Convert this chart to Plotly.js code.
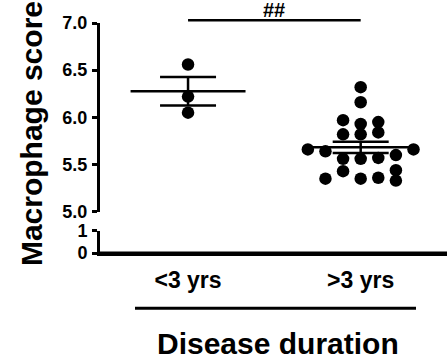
<!DOCTYPE html>
<html><head><meta charset="utf-8">
<script src="https://cdn.plot.ly/plotly-3.0.1.min.js"></script>
<style>html,body{margin:0;padding:0;background:#fff}#chart{width:447px;height:359px}</style>
</head><body><div id="chart"></div>
<script>
// ---- data ----
const categories = ['<3 yrs', '>3 yrs'];
const shortValues = [6.56, 6.22, 6.05];
const longValues = [6.32, 6.16, 5.97, 5.93, 5.95, 5.82, 5.82, 5.84, 5.66, 5.64, 5.66,
                    5.56, 5.56, 5.57, 5.60, 5.43, 5.44, 5.35, 5.35, 5.36, 5.33];
const upperTicks = [5.0, 5.5, 6.0, 6.5, 7.0];
const lowerTicks = [0, 1];
const xTitle = 'Disease duration';
const yTitle = 'Macrophage score';
const sigLabel = '##';

// ---- layout helpers (swarm columns) ----
const shortSlots = [0, 0, 0];
const longSlots = [0, 0, -1, 0, 1, -1, 0, 1, -3, -2, 3, -1, 0, 1, 2, -1, 2, -2, 0, 1, 2];
const slotStep = 0.102;

const W = 447, H = 359;
const M = {l: 100, r: 0, t: 23, b: 106};
const plotH = H - M.t - M.b, plotW = W - M.l - M.r;
const pyPaper = py => (H - M.b - py) / plotH;
const pxPaper = px => (px - M.l) / plotW;
const upperDomain = [pyPaper(211.7), 1];
const lowerDomain = [0, pyPaper(230.7)];
const upperToPaper = v => upperDomain[0] + (v - 5) / 2 * (upperDomain[1] - upperDomain[0]);

const FONT = 'Liberation Sans, Arial, Helvetica, sans-serif';
const groups = [shortValues, longValues];
const slots = [shortSlots, longSlots];
const bold = s => '<b>' + s + '</b>';

const mean = a => a.reduce((s, v) => s + v, 0) / a.length;
const sem = a => { const m = mean(a); return Math.sqrt(a.reduce((s, v) => s + (v - m) ** 2, 0) / (a.length - 1)) / Math.sqrt(a.length); };

const traces = [];
// anchor trace so the lower (broken) axis segment exists
traces.push({x: [0], y: [null], mode: 'markers', xaxis: 'x', yaxis: 'y2', showlegend: false, hoverinfo: 'skip'});
groups.forEach((vals, gi) => {
  const m = mean(vals), e = sem(vals);
  traces.push({x: [gi - 0.333, gi + 0.333], y: [m, m], mode: 'lines', xaxis: 'x', yaxis: 'y',
    line: {color: '#000', width: 2.5}, hoverinfo: 'skip', showlegend: false});
  traces.push({x: [gi], y: [m], mode: 'markers', xaxis: 'x', yaxis: 'y',
    marker: {size: 1, color: 'rgba(0,0,0,0)'},
    error_y: {type: 'data', array: [e], visible: true, color: '#000', thickness: 2.5, width: 28},
    hoverinfo: 'skip', showlegend: false});
  traces.push({x: vals.map((v, i) => gi + slots[gi][i] * slotStep), y: vals, mode: 'markers',
    xaxis: 'x', yaxis: 'y', marker: {size: 12.5, color: '#000'}, showlegend: false,
    name: categories[gi]});
});

const sigY = upperToPaper(7.03);
const tickFont = {family: FONT, size: 18, color: '#000', weight: 'bold'};

const layout = {
  width: W, height: H, margin: M, paper_bgcolor: '#fff', plot_bgcolor: '#fff', showlegend: false,
  xaxis: {domain: [0, 1], range: [-0.51, 1.5], anchor: 'y2', tickvals: [0, 1], ticktext: categories.map(bold),
    showline: true, linewidth: 3, linecolor: '#000', ticks: '', showgrid: false, zeroline: false,
    tickfont: {family: FONT, size: 23, color: '#000', weight: 'bold'}, ticklabelstandoff: 4, fixedrange: true},
  yaxis: {domain: upperDomain, range: [5, 7], anchor: 'x', tickvals: upperTicks,
    ticktext: upperTicks.map(v => bold(v.toFixed(1))),
    ticks: 'outside', ticklen: 5, tickwidth: 3, tickcolor: '#000', showline: true, linewidth: 3,
    linecolor: '#000', showgrid: false, zeroline: false, tickfont: tickFont, ticklabelstandoff: 1},
  yaxis2: {domain: lowerDomain, range: [0, 1], anchor: 'x', tickvals: lowerTicks,
    ticktext: lowerTicks.map(v => bold(String(v))),
    ticks: 'outside', ticklen: 5, tickwidth: 3, tickcolor: '#000', showline: true, linewidth: 3,
    linecolor: '#000', showgrid: false, zeroline: false, tickfont: tickFont, ticklabelstandoff: 1},
  shapes: [
    // x axis baseline (drawn explicitly along the bottom of the plot area)
    {type: 'line', xref: 'paper', yref: 'paper', x0: pxPaper(98.5), x1: 1, y0: 0, y1: 0, line: {color: '#000', width: 3}},
    {type: 'line', xref: 'x', yref: 'paper', x0: 0, x1: 1, y0: sigY, y1: sigY, line: {color: '#000', width: 2.5}},
    {type: 'line', xref: 'paper', yref: 'paper', x0: pxPaper(135), x1: pxPaper(416), y0: pyPaper(308.3), y1: pyPaper(308.3), line: {color: '#000', width: 3}}
  ],
  annotations: [
    {xref: 'x', yref: 'paper', x: 0.5, y: sigY, yanchor: 'bottom', xanchor: 'center', text: bold(sigLabel),
     showarrow: false, font: {family: FONT, size: 20, color: '#000'}, yshift: -3},
    {xref: 'paper', yref: 'paper', x: pxPaper(278), y: pyPaper(343), xanchor: 'center', yanchor: 'middle',
     text: bold(xTitle), showarrow: false, font: {family: FONT, size: 30, color: '#000'}},
    {xref: 'paper', yref: 'paper', x: pxPaper(31.6), y: pyPaper(133.5), xanchor: 'center', yanchor: 'middle',
     textangle: -90, text: bold(yTitle), showarrow: false, font: {family: FONT, size: 30, color: '#000'}}
  ]
};

Plotly.newPlot('chart', traces, layout, {displayModeBar: false, staticPlot: true});
</script>
</body></html>
